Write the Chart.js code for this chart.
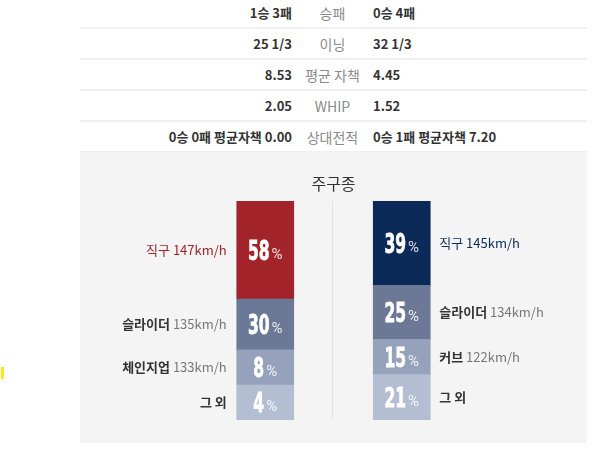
<!DOCTYPE html>
<html>
<head>
<meta charset="utf-8">
<script src="https://cdn.jsdelivr.net/npm/chart.js@4"></script>
<style>
  body { margin: 0; width: 600px; height: 456px; background: #fff; position: relative; overflow: hidden;
         font-family: "Noto Sans CJK KR", "Noto Sans", sans-serif; }
  .row { position: absolute; left: 80px; width: 507px; height: 31px; box-sizing: border-box;
         border-bottom: 2px solid #efefef; display: flex; line-height: 30px; font-size: 13px; }
  .row .l { width: 212px; text-align: right; font-weight: bold; color: #333; }
  .row .m { width: 81px; text-align: center; color: #8a8a8a; font-size: 14px; }
  .row .r { flex: 1; font-weight: bold; color: #333; }
  #panel { position: absolute; left: 80px; top: 152px; width: 507px; height: 291px; background: #f4f4f4; }
  #mark { position: absolute; left: 1px; top: 367px; width: 3px; height: 12px; background: #ffe81a; }
</style>
</head>
<body>
<div id="table"></div>
<div id="panel"><canvas id="pitchChart" width="507" height="291"></canvas></div>
<div id="mark"></div>
<script>
// 상단 비교표
const statLabels = ['승패', '이닝', '평균 자책', 'WHIP', '상대전적'];
const leftStats = ['1승 3패', '25 1/3', '8.53', '2.05', '0승 0패 평균자책 0.00'];
const rightStats = ['0승 4패', '32 1/3', '4.45', '1.52', '0승 1패 평균자책 7.20'];

// 주구종
const chartTitle = '주구종';
const sides = ['left', 'right'];
const leftPitches = ['직구', '슬라이더', '체인지업', '그 외'];
const leftShares = [58, 30, 8, 4];
const leftSpeeds = ['147km/h', '135km/h', '133km/h', ''];
const rightPitches = ['직구', '슬라이더', '커브', '그 외'];
const rightShares = [39, 25, 15, 21];
const rightSpeeds = ['145km/h', '134km/h', '122km/h', ''];

const teamColors = ['#a2242a', '#0b2a57'];
const rankColors = ['#6b7896', '#96a2bb', '#b3bed3'];

const tableEl = document.getElementById('table');
statLabels.forEach((lab, i) => {
    const row = document.createElement('div');
    row.className = 'row';
    row.style.top = (-2 + 31 * i) + 'px';
    row.innerHTML = `<div class="l">${leftStats[i]}</div><div class="m">${lab}</div><div class="r">${rightStats[i]}</div>`;
    tableEl.appendChild(row);
});

// 작은 구종도 칸이 보이도록 최소 비율 적용 (사이트 표시 방식)
const MIN_SHARE = 16;
function displayShares(shares) {
    const small = shares.filter(v => v < MIN_SHARE).length;
    const bigSum = shares.filter(v => v >= MIN_SHARE).reduce((a, b) => a + b, 0);
    const rest = 100 - small * MIN_SHARE;
    return shares.map(v => v < MIN_SHARE ? MIN_SHARE : v / bigSum * rest);
}
const leftDisp = displayShares(leftShares);
const rightDisp = displayShares(rightShares);

// 스택은 아래부터 쌓이므로 순서를 뒤집는다
const datasets = [];
for (let i = 3; i >= 0; i--) {
    datasets.push({
        rank: i,
        data: [leftDisp[i], rightDisp[i]],
        backgroundColor: i === 0 ? teamColors : [rankColors[i - 1], rankColors[i - 1]],
        barThickness: 57,
        borderWidth: 0
    });
}

const labelPlugin = {
    id: 'pitchLabels',
    afterDatasetsDraw(chart) {
        const ctx = chart.ctx;
        const area = chart.chartArea;
        const font = '"Noto Sans CJK KR", "Noto Sans", sans-serif';

        // 제목 + 가운데 구분선
        ctx.save();
        ctx.fillStyle = '#333';
        ctx.font = '16px ' + font;
        ctx.textAlign = 'center';
        ctx.textBaseline = 'middle';
        const cx = (area.left + area.right) / 2;
        ctx.fillText(chartTitle, cx, area.top - 17);
        ctx.strokeStyle = '#e2e2e2';
        ctx.lineWidth = 1;
        ctx.beginPath();
        ctx.moveTo(Math.floor(cx) - 0.5, area.top);
        ctx.lineTo(Math.floor(cx) - 0.5, area.bottom);
        ctx.stroke();
        ctx.restore();

        chart.data.datasets.forEach((ds, di) => {
            const meta = chart.getDatasetMeta(di);
            meta.data.forEach((bar, side) => {
                const rank = ds.rank;
                const share = side === 0 ? leftShares[rank] : rightShares[rank];
                const name = side === 0 ? leftPitches[rank] : rightPitches[rank];
                const speed = side === 0 ? leftSpeeds[rank] : rightSpeeds[rank];
                const yMid = (bar.y + bar.base) / 2;
                const half = bar.width / 2;

                // 막대 안 퍼센트 (좁고 굵은 숫자)
                ctx.save();
                const numStr = String(share);
                const numFont = 'bold 26px "DejaVu Sans"';
                const sx = 0.6;
                ctx.font = numFont;
                const numW = ctx.measureText(numStr).width * sx;
                ctx.font = '15px Roboto';
                const pctW = ctx.measureText('%').width;
                const total = numW + 2 + pctW;
                const x0 = bar.x - total / 2;
                const base = yMid + 9.5;
                ctx.textBaseline = 'alphabetic';
                ctx.textAlign = 'left';
                ctx.fillStyle = '#fff';
                ctx.strokeStyle = '#fff';
                ctx.lineWidth = 0.8;
                ctx.save();
                ctx.translate(x0, base);
                ctx.scale(sx, 1);
                ctx.font = numFont;
                ctx.fillText(numStr, 0, 0);
                ctx.strokeText(numStr, 0, 0);
                ctx.restore();
                ctx.fillStyle = 'rgba(255,255,255,0.85)';
                ctx.font = '15px Roboto';
                ctx.fillText('%', x0 + numW + 2, base - 1);
                ctx.restore();

                // 구종 이름 + 구속
                ctx.save();
                ctx.textBaseline = 'middle';
                const nameFont = (rank === 0 ? '' : 'bold ') + '13px ' + font;
                const speedFont = '13px ' + font;
                const nameColor = rank === 0 ? teamColors[side] : '#333';
                const speedColor = rank === 0 ? teamColors[side] : '#777';
                ctx.font = nameFont;
                const nameW = ctx.measureText(name).width;
                ctx.font = speedFont;
                const spW = speed ? ctx.measureText(' ' + speed).width : 0;
                const lx = side === 0 ? bar.x - half - 10 - nameW - spW : bar.x + half + 9;
                ctx.textAlign = 'left';
                ctx.font = nameFont;
                ctx.fillStyle = nameColor;
                ctx.fillText(name, lx, yMid);
                if (speed) {
                    ctx.font = speedFont;
                    ctx.fillStyle = speedColor;
                    ctx.fillText(' ' + speed, lx + nameW, yMid);
                }
                ctx.restore();
            });
        });
    }
};

new Chart(document.getElementById('pitchChart'), {
    type: 'bar',
    data: { labels: sides, datasets: datasets },
    options: {
        responsive: false,
        animation: false,
        devicePixelRatio: 1,
        layout: { padding: { left: 117, right: 117, top: 49, bottom: 23 } },
        plugins: { legend: { display: false }, tooltip: { enabled: false } },
        scales: {
            x: { display: false, stacked: true },
            y: { display: false, stacked: true, min: 0, max: 100 }
        }
    },
    plugins: [labelPlugin]
});
</script>
</body>
</html>
